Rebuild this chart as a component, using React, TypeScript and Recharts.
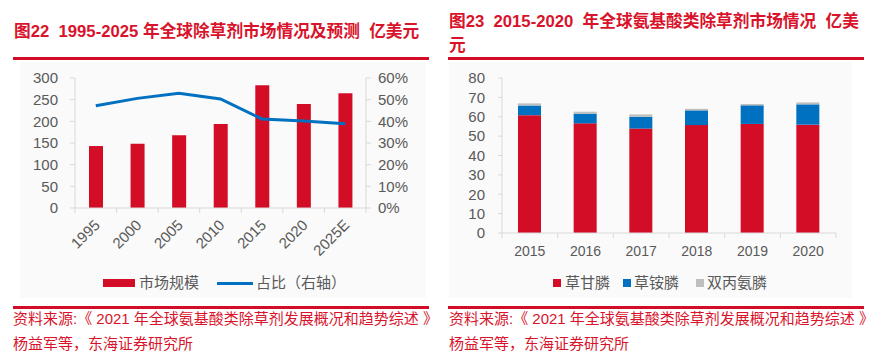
import React from "react";
import { ComposedChart, BarChart, Bar, Line, XAxis, YAxis, Legend } from "recharts";

const years1 = ["1995", "2000", "2005", "2010", "2015", "2020", "2025E"];
const marketSize = [143, 148, 168, 194, 283, 240, 265];
const sharePct = [47.2, 50.6, 52.9, 50.3, 41.1, 40.2, 38.9];
const leftTicks = [0, 50, 100, 150, 200, 250, 300];
const rightTicks = [0, 10, 20, 30, 40, 50, 60];

const years2 = ["2015", "2016", "2017", "2018", "2019", "2020"];
const glyphosate = [60.8, 56.6, 53.9, 55.7, 56.3, 55.9];
const glufosinate = [5.0, 5.0, 6.1, 7.6, 9.6, 10.5];
const bialaphos = [1.1, 1.0, 1.2, 0.8, 0.7, 1.0];
const ticks2 = [0, 10, 20, 30, 40, 50, 60, 70, 80];

const data1 = years1.map((y, i) => ({ year: y, size: marketSize[i], share: sharePct[i] }));
const data2 = years2.map((y, i) => ({ year: y, g1: glyphosate[i], g2: glufosinate[i], g3: bialaphos[i] }));

const RED = "#d40d26";
const BLUE = "#0070c0";
const GRAY = "#bfbfbf";
const AXIS = "#d9d9d9";
const TXT = "#595959";
const FONT = "'Liberation Sans', Arial, 'Noto Sans CJK SC', sans-serif";

const makeTick = (bw: number, rotate: boolean, count: number) => (props: any) => {
  const { x, y, payload, index } = props;
  return (
    <g>
      <line x1={x - bw / 2} y1={y} x2={x - bw / 2} y2={y + 5} stroke={AXIS} />
      {index === count - 1 ? <line x1={x + bw / 2} y1={y} x2={x + bw / 2} y2={y + 5} stroke={AXIS} /> : null}
      {rotate ? (
        <text x={x + 5} y={y + 18} textAnchor="end" fill={TXT} fontSize={15} fontFamily={FONT} transform={`rotate(-45, ${x + 5}, ${y + 18})`}>
          {payload.value}
        </text>
      ) : (
        <text x={x} y={y + 23} textAnchor="middle" fill={TXT} fontSize={14} fontFamily={FONT}>
          {payload.value}
        </text>
      )}
    </g>
  );
};

const legendText: React.CSSProperties = { fontSize: 15, color: TXT, fontFamily: FONT, lineHeight: "20px" };

const Legend1 = () => (
  <div style={{ position: "relative", height: 20, width: 437 }}>
    <div style={{ position: "absolute", left: 103, top: 6, width: 32, height: 8, background: RED }} />
    <div style={{ position: "absolute", left: 139, top: 0, ...legendText }}>市场规模</div>
    <div style={{ position: "absolute", left: 217, top: 8.5, width: 36, height: 3, background: BLUE }} />
    <div style={{ position: "absolute", left: 256, top: 0, ...legendText }}>占比（右轴）</div>
  </div>
);

const Legend2 = () => (
  <div style={{ position: "relative", height: 20, width: 437 }}>
    <div style={{ position: "absolute", left: 116, top: 6, width: 8, height: 8, background: RED }} />
    <div style={{ position: "absolute", left: 128, top: 0, ...legendText }}>草甘膦</div>
    <div style={{ position: "absolute", left: 186, top: 6, width: 8, height: 8, background: BLUE }} />
    <div style={{ position: "absolute", left: 197, top: 0, ...legendText }}>草铵膦</div>
    <div style={{ position: "absolute", left: 259, top: 6, width: 8, height: 8, background: GRAY }} />
    <div style={{ position: "absolute", left: 270, top: 0, ...legendText }}>双丙氨膦</div>
  </div>
);

const titleStyle: React.CSSProperties = {
  position: "absolute",
  color: "#d8132b",
  fontWeight: "bold",
  fontSize: 16.7,
  lineHeight: "24px",
  fontFamily: FONT,
  whiteSpace: "pre",
};

const footStyle: React.CSSProperties = {
  position: "absolute",
  color: "#d8132b",
  fontSize: 15,
  lineHeight: "24.5px",
  fontFamily: FONT,
  whiteSpace: "pre",
};

export default function App() {
  return (
    <div style={{ position: "absolute", left: 0, top: 0, width: 874, height: 364, background: "#ffffff", overflow: "hidden" }}>
      <div style={{ position: "absolute", left: 20, top: 62, width: 406, height: 236, background: "#fafafa" }} />
      <div style={{ position: "absolute", left: 449, top: 62, width: 403, height: 236, background: "#fafafa" }} />

      <div style={{ ...titleStyle, left: 14, top: 20 }}>{"图22  1995-2025 年全球除草剂市场情况及预测  亿美元"}</div>
      <div style={{ position: "absolute", left: 13, top: 57, width: 416, height: 2.5, background: RED }} />
      <div style={{ ...titleStyle, left: 449, top: 10 }}>
        {"图23  2015-2020  年全球氨基酸类除草剂市场情况  亿美"}
        <br />
        {"元"}
      </div>
      <div style={{ position: "absolute", left: 448, top: 57, width: 416, height: 2.5, background: RED }} />

      <div style={{ position: "absolute", left: 0, top: 60 }}>
        <ComposedChart width={437} height={240} data={data1} margin={{ top: 18, right: 0, left: 0, bottom: 20 }}>
          <XAxis dataKey="year" yAxisId="l" height={72} stroke={AXIS} tickLine={false} tickSize={0} tickMargin={0} interval={0} tick={makeTick(291 / 7, true, 7)} />
          <YAxis yAxisId="l" domain={[0, 300]} ticks={leftTicks} width={75} stroke={AXIS} tickSize={5} tickMargin={12} tick={{ fill: TXT, fontSize: 15, fontFamily: FONT }} interval={0} />
          <YAxis yAxisId="r" orientation="right" domain={[0, 60]} ticks={rightTicks} width={71} stroke={AXIS} tickSize={5} tickMargin={7} tickFormatter={(v: number) => `${v}%`} tick={{ fill: TXT, fontSize: 15, fontFamily: FONT, textAnchor: "start" }} interval={0} />
          <Bar yAxisId="l" dataKey="size" fill={RED} barSize={14} isAnimationActive={false} />
          <Line yAxisId="r" dataKey="share" stroke={BLUE} strokeWidth={3} dot={false} type="linear" isAnimationActive={false} />
          <Legend layout="horizontal" verticalAlign="middle" align="center" content={<Legend1 />} wrapperStyle={{ top: 213, left: 0, width: 437, height: 20 }} />
        </ComposedChart>
      </div>

      <div style={{ position: "absolute", left: 437, top: 60 }}>
        <BarChart width={437} height={240} data={data2} margin={{ top: 18, right: 38, left: 0, bottom: 20 }}>
          <XAxis dataKey="year" height={47} stroke={AXIS} tickLine={false} tickSize={0} tickMargin={0} interval={0} tick={makeTick(334 / 6, false, 6)} />
          <YAxis domain={[0, 80]} ticks={ticks2} width={65} stroke={AXIS} tickSize={4} tickMargin={13} tick={{ fill: TXT, fontSize: 15, fontFamily: FONT }} interval={0} />
          <Bar dataKey="g1" stackId="a" fill={RED} barSize={23} isAnimationActive={false} />
          <Bar dataKey="g2" stackId="a" fill={BLUE} barSize={23} isAnimationActive={false} />
          <Bar dataKey="g3" stackId="a" fill={GRAY} barSize={23} isAnimationActive={false} />
          <Legend layout="horizontal" verticalAlign="middle" align="center" content={<Legend2 />} wrapperStyle={{ top: 213, left: 0, width: 437, height: 20 }} />
        </BarChart>
      </div>

      <div style={{ position: "absolute", left: 13, top: 306, width: 416, height: 2.5, background: RED }} />
      <div style={{ position: "absolute", left: 448, top: 306, width: 416, height: 2.5, background: RED }} />
      <div style={{ ...footStyle, left: 13, top: 307 }}>
        {"资料来源:《 2021 年全球氨基酸类除草剂发展概况和趋势综述 》"}
        <br />
        {"杨益军等，东海证券研究所"}
      </div>
      <div style={{ ...footStyle, left: 449, top: 307 }}>
        {"资料来源:《 2021 年全球氨基酸类除草剂发展概况和趋势综述 》"}
        <br />
        {"杨益军等，东海证券研究所"}
      </div>
    </div>
  );
}
